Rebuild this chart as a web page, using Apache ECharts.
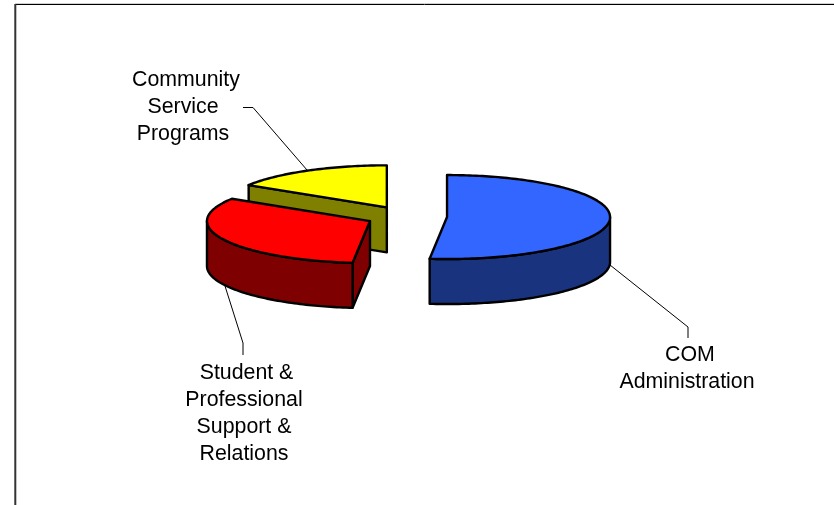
<!DOCTYPE html>
<html>
<head>
<meta charset="utf-8">
<style>html,body{margin:0;padding:0;background:#fff}#c{width:834px;height:505px}</style>
<script src="https://cdn.jsdelivr.net/npm/echarts@6/dist/echarts.min.js"></script>
</head>
<body>
<div id="c"></div>
<script>
// Data
var categories = ['COM Administration', 'Student & Professional Support & Relations', 'Community Service Programs'];
var values = [51.7, 32.2, 16.1];
var labelLines = [
  ['COM', 'Administration'],
  ['Student &', 'Professional', 'Support &', 'Relations'],
  ['Community', 'Service', 'Programs']
];
var topColors = ['#3366ff', '#ff0000', '#ffff00'];
var sideColors = ['#19337f', '#7f0000', '#7f7f00'];
// Drawing order: back slice first
var drawOrder = [2, 1, 0];

// Layout of the pseudo-3D pie
var cx = 406.5, cy = 216.5, rx = 163, ry = 42, depth = 45, explode = 40.6;
var fontSize = 21.33, lineGap = 27;
var labelCenter = [[687, 355], [244, 373], [186, 80]];
var lineShift = [[3, 0], [2.5, 0, 0, 0], [0, -3, -3]];
var leaders = [
  [[610, 265], [688, 327], [688, 338]],
  [[225, 286], [243, 343], [243, 355]],
  [[243, 107.5], [253, 107.5], [307, 170]]
];

var total = values.reduce(function (a, b) { return a + b; }, 0);
var slices = [], acc = 0;
values.forEach(function (v) {
  var a0 = acc / total * 2 * Math.PI;
  acc += v;
  var a1 = acc / total * 2 * Math.PI;
  slices.push([a0, a1]);
});

function pt(c, a, y) { return [c[0] + rx * Math.sin(a), c[1] - ry * Math.cos(a) + (y || 0)]; }
function arc(c, a0, a1, y) {
  var n = Math.max(2, Math.ceil(Math.abs(a1 - a0) / 0.02)), out = [];
  for (var i = 0; i <= n; i++) out.push(pt(c, a0 + (a1 - a0) * i / n, y));
  return out;
}
function poly(points, fill) {
  return { type: 'polygon', shape: { points: points },
    style: { fill: fill, stroke: '#000', lineWidth: 2.4, lineJoin: 'round' } };
}
function sliceShapes(i) {
  var a0 = slices[i][0], a1 = slices[i][1], mid = (a0 + a1) / 2;
  var c = [cx + explode * Math.sin(mid), cy - explode * ry / rx * Math.cos(mid)];
  var shapes = [], side = sideColors[i];
  function face(a) {
    var p = pt(c, a);
    shapes.push(poly([c, p, [p[0], p[1] + depth], [c[0], c[1] + depth]], side));
  }
  if (a0 > Math.PI && a0 < 2 * Math.PI) face(a0);
  if (a1 > 0 && a1 < Math.PI) face(a1);
  // outer wall: the part of the rim that faces the viewer
  var w0 = Math.max(a0, Math.PI / 2), w1 = Math.min(a1, 3 * Math.PI / 2);
  if (w1 > w0) {
    shapes.push(poly(arc(c, w0, w1, 0).concat(arc(c, w1, w0, depth)), side));
  }
  shapes.push(poly([c].concat(arc(c, a0, a1, 0)), topColors[i]));
  return shapes;
}

var chart = echarts.init(document.getElementById('c'), null, { renderer: 'canvas' });
chart.setOption({
  animation: false,
  backgroundColor: '#ffffff',
  graphic: [
    { type: 'line', shape: { x1: 15, y1: 3.5, x2: 834, y2: 3.5 }, style: { stroke: '#d0d0d0', lineWidth: 1 }, z: 0 },
    { type: 'line', shape: { x1: 15, y1: 4.5, x2: 834, y2: 4.5 }, style: { stroke: '#000', lineWidth: 1 }, z: 0 },
    { type: 'line', shape: { x1: 15.3, y1: 4, x2: 15.3, y2: 505 }, style: { stroke: '#333', lineWidth: 2 }, z: 0 }
  ],
  series: [{
    type: 'custom',
    coordinateSystem: 'none',
    silent: true,
    data: drawOrder.map(function (i) { return { name: categories[i], value: values[i], idx: i }; }),
    renderItem: function (params) {
      var i = drawOrder[params.dataIndex];
      var children = [];
      children.push({ type: 'polyline', shape: { points: leaders[i] },
        style: { fill: null, stroke: '#000', lineWidth: 1 } });
      children = children.concat(sliceShapes(i));
      labelLines[i].forEach(function (t, k) {
        children.push({ type: 'text',
          style: { text: t, x: labelCenter[i][0] + lineShift[i][k], y: labelCenter[i][1] + k * lineGap,
            fill: '#000', align: 'center', verticalAlign: 'middle',
            font: fontSize + 'px "Liberation Sans", Arial, sans-serif' } });
      });
      return { type: 'group', children: children };
    }
  }]
});
</script>
</body>
</html>
